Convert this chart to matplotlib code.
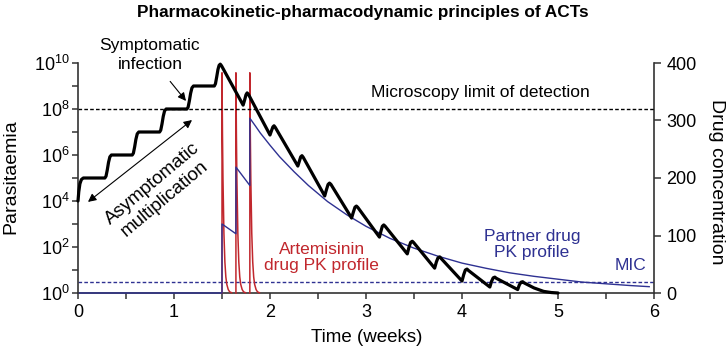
import matplotlib
matplotlib.use("Agg")
import matplotlib.pyplot as plt
import numpy as np
from matplotlib.ticker import FixedLocator, NullFormatter

plt.rcParams['font.family'] = ['Liberation Sans', 'DejaVu Sans']
plt.rcParams['mathtext.fontset'] = 'custom'
plt.rcParams['mathtext.rm'] = 'Liberation Sans'
plt.rcParams['mathtext.default'] = 'regular'

# ---------------- data ----------------
# parasitaemia (log10 parasites) vs time in weeks
par_weeks = [0.000, 0.008, 0.020, 0.035, 0.055, 0.280, 0.292, 0.305, 0.318, 0.332, 0.348,
             0.565, 0.577, 0.590, 0.603, 0.617, 0.633, 0.850, 0.862, 0.875, 0.888, 0.902, 0.918,
             1.135, 1.147, 1.160, 1.173, 1.187, 1.203, 1.420, 1.432, 1.445, 1.458, 1.470, 1.482, 1.495,
             1.720, 1.735, 1.750, 1.762, 1.775,
             2.000, 2.015, 2.030, 2.042, 2.055,
             2.290, 2.305, 2.320, 2.333, 2.346,
             2.570, 2.587, 2.605, 2.620, 2.635,
             2.850, 2.867, 2.885, 2.900, 2.915,
             3.140, 3.155, 3.170, 3.185, 3.200,
             3.430, 3.447, 3.465, 3.482, 3.497,
             3.715, 3.733, 3.750, 3.768, 3.783,
             4.000, 4.018, 4.035, 4.052, 4.067,
             4.290, 4.307, 4.325, 4.342, 4.357,
             4.580, 4.597, 4.615, 4.632, 4.647,
             4.750, 4.850, 4.930, 5.000]
par_log10 = [4.00, 4.40, 4.75, 4.93, 5.00, 5.00, 5.08, 5.35, 5.68, 5.92, 6.00,
             6.00, 6.08, 6.35, 6.68, 6.92, 7.00, 7.00, 7.08, 7.35, 7.68, 7.92, 8.00,
             8.00, 8.08, 8.35, 8.68, 8.92, 9.00, 9.00, 9.10, 9.40, 9.72, 9.90, 9.95, 9.88,
             8.17, 8.38, 8.62, 8.70, 8.64,
             6.87, 7.05, 7.22, 7.27, 7.20,
             5.52, 5.72, 5.92, 5.97, 5.90,
             4.22, 4.48, 4.72, 4.78, 4.72,
             3.26, 3.50, 3.73, 3.78, 3.72,
             2.43, 2.68, 2.90, 2.96, 2.90,
             1.70, 1.98, 2.20, 2.25, 2.19,
             1.08, 1.35, 1.53, 1.57, 1.50,
             0.52, 0.80, 1.00, 1.04, 0.98,
             0.26, 0.50, 0.66, 0.69, 0.64,
             0.15, 0.35, 0.47, 0.49, 0.44,
             0.22, 0.07, 0.02, 0.00]

# partner drug concentration
partner_weeks = [0, 1.5, 1.5, 1.645, 1.645, 1.79, 1.79, 1.85, 1.9, 2.0, 2.1, 2.25, 2.4, 2.6, 2.8,
                 3.0, 3.25, 3.5, 3.75, 4.0, 4.25, 4.5, 4.75, 5.0, 5.25, 5.5, 5.75, 5.95]
partner_conc = [0, 0, 120, 103, 219, 187, 304, 290, 278, 257, 237, 211, 187, 159, 136,
                116, 95, 78, 64, 52, 43, 35, 29, 24, 19, 16, 13, 11]

# artemisinin doses (weeks) and profile after each dose
art_dose_weeks = [1.5, 1.645, 1.79]
art_offset_weeks = [0.0, 0.0, 0.005, 0.01, 0.02, 0.03, 0.04, 0.05, 0.065, 0.08, 0.1]
art_conc = [0, 383, 276, 200, 104, 54, 28, 15, 6, 2, 0.5]

mic_level = 20
detect_limit = 1e8

x_ticks = [0, 1, 2, 3, 4, 5, 6]
x_minor = [0.5, 1.5, 2.5, 3.5, 4.5, 5.5]
left_exps = [0, 2, 4, 6, 8, 10]
left_minor_exps = [1, 3, 5, 7, 9]
right_ticks = [0, 100, 200, 300, 400]

RED = '#c1272d'
BLUE = '#2e3192'
SPINE = '#333333'

# ---------------- figure ----------------
fig = plt.figure(figsize=(7.26, 3.53), dpi=100)
axR = fig.add_axes([78/726, 1-293/353, 576/726, 230/353])
axL = axR.twinx()

axL.set_yscale('log')
axL.set_ylim(1, 1e10)
axR.set_ylim(0, 400)
axR.set_xlim(0, 6)

axL.yaxis.tick_left()
axL.yaxis.set_label_position('left')
axR.yaxis.tick_right()

for s in ['top', 'left']:
    axR.spines[s].set_visible(False)
for s in ['top', 'right', 'bottom']:
    axL.spines[s].set_visible(False)
for ax in (axL, axR):
    for s in ax.spines.values():
        s.set_color(SPINE)
        s.set_linewidth(1.2)

# ticks
axR.set_xticks(x_ticks)
axR.set_xticklabels([str(t) for t in x_ticks])
axR.xaxis.set_minor_locator(FixedLocator(x_minor))
axR.tick_params(axis='x', which='both', direction='out', length=4, width=1.1,
                color=SPINE, labelsize=13, pad=4)

axL.yaxis.set_major_locator(FixedLocator([10.0**e for e in left_exps]))
axL.set_yticklabels([r'$10^{%d}$' % e for e in left_exps])
axL.yaxis.set_minor_locator(FixedLocator([10.0**e for e in left_minor_exps]))
axL.yaxis.set_minor_formatter(NullFormatter())
axL.tick_params(axis='y', which='both', direction='out', length=4, width=1.1,
                color=SPINE, labelsize=13, pad=2)

axR.set_yticks(right_ticks)
axR.tick_params(axis='y', which='both', direction='out', length=5, width=1.1,
                color=SPINE, labelsize=13, pad=4)

# reference lines
axL.plot([0, 6], [detect_limit, detect_limit], color='black', lw=1.0,
         dashes=(2.6, 1.6), zorder=2)
axR.plot([0, 6], [mic_level, mic_level], color=BLUE, lw=1.0,
         dashes=(2.6, 1.6), zorder=2)

# drug curves (right axis)
for d in art_dose_weeks:
    axR.plot([d + o for o in art_offset_weeks], art_conc, color=RED, lw=1.1,
             clip_on=False, zorder=3)
axR.plot(partner_weeks, partner_conc, color=BLUE, lw=1.0, clip_on=False, zorder=4)

# parasitaemia (left axis, on top)
axL.plot(par_weeks, [10.0**v for v in par_log10], color='black', lw=2.3,
         solid_joinstyle='round', solid_capstyle='round', clip_on=False, zorder=5)

# annotations
axL.text(0.75, 10**10.36, 'Symptomatic\ninfection', ha='center', va='center',
         fontsize=12.5, linespacing=1.3, clip_on=False)
axL.annotate('', xy=(1.125, 10**8.35), xytext=(0.96, 10**9.2),
             annotation_clip=False,
             arrowprops=dict(arrowstyle='-|>', color='black', lw=0.8,
                             mutation_scale=12, shrinkA=0, shrinkB=0))
axL.annotate('', xy=(0.104, 10**3.96), xytext=(1.1875, 10**7.52),
             arrowprops=dict(arrowstyle='<|-|>', color='black', lw=0.8,
                             mutation_scale=12, shrinkA=0, shrinkB=0))
axL.text(0.84, 10**4.42, 'Asymptomatic\nmultiplication', rotation=40,
         rotation_mode='anchor', ha='center', va='center', fontsize=13.5,
         linespacing=1.15)
axL.text(4.19, 10**8.70, 'Microscopy limit of detection', ha='center', va='center',
         fontsize=12.5)
axR.text(2.54, 61.7, 'Artemisinin\ndrug PK profile', ha='center', va='center',
         fontsize=12.5, color=RED, linespacing=1.15)
axR.text(4.73, 84.3, 'Partner drug\nPK profile', ha='center', va='center',
         fontsize=12.5, color=BLUE, linespacing=1.15)
axR.text(5.92, 47, 'MIC', ha='right', va='center', fontsize=12.5, color=BLUE)

# labels and title
fig.text(0.5, 1 - 12/353, 'Pharmacokinetic-pharmacodynamic principles of ACTs',
         ha='center', va='center', fontsize=12.4, fontweight='bold')
fig.text(367/726, 1 - 338/353, 'Time (weeks)', ha='center', va='center', fontsize=13.5)
fig.text(11/726, 1 - 177/353, 'Parasitaemia', ha='center', va='center',
         rotation=90, fontsize=14)
fig.text(716/726, 1 - 182/353, 'Drug concentration', ha='center', va='center',
         rotation=270, fontsize=14)

fig.savefig('out.png', dpi=100)
